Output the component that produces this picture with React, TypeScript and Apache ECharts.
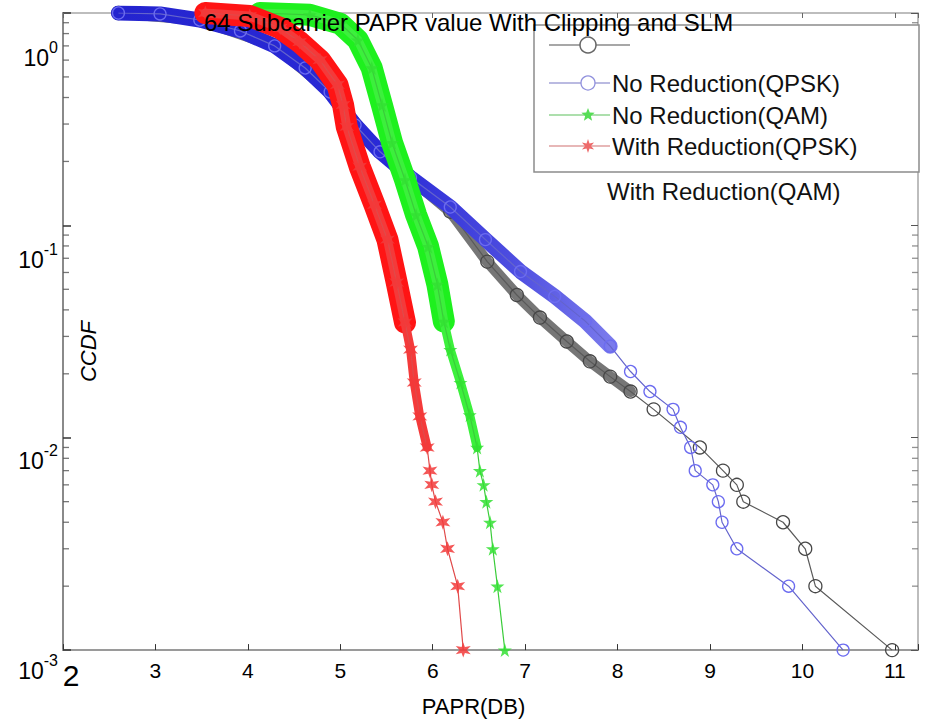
import { useEffect, useRef } from "react";
import * as echarts from "echarts";

const FONT = "'Liberation Sans', Arial, Helvetica, sans-serif";

const chartTitle = "64 Subcarrier PAPR value With Clipping and SLM";
const xAxisTitle = "PAPR(DB)";
const yAxisTitle = "CCDF";
const xTickValues = [2, 3, 4, 5, 6, 7, 8, 9, 10, 11];
const logMinorTicks = [
  0.002, 0.003, 0.004, 0.005, 0.006, 0.007, 0.008, 0.009,
  0.02, 0.03, 0.04, 0.05, 0.06, 0.07, 0.08, 0.09,
  0.2, 0.3, 0.4, 0.5, 0.6, 0.7, 0.8, 0.9,
];
const legendRows = ["", "No Reduction(QPSK)", "No Reduction(QAM)", "With Reduction(QPSK)"];
const legendTrailing = "With Reduction(QAM)";

// black hollow circles (first plotted curve, hidden under blue at the top)
const blackCurve: [number, number][] = [
  [2.6, 1.0], [3.48, 0.927], [4.29, 0.7], [4.89, 0.425], [5.43, 0.222], [5.76, 0.166],
  [6.19, 0.116], [6.59, 0.0675], [6.91, 0.047], [7.16, 0.0368], [7.45, 0.0284], [7.7, 0.0229],
  [7.92, 0.0194], [8.14, 0.0165], [8.39, 0.0136], [8.89, 0.009], [9.14, 0.007],
  [9.29, 0.006], [9.36, 0.005], [9.79, 0.004], [10.03, 0.003], [10.14, 0.002], [10.97, 0.001],
];

// blue hollow circles
const blueCurve: [number, number][] = [
  [2.6, 1.0], [3.05, 0.99], [3.48, 0.927], [3.92, 0.823], [4.29, 0.7], [4.62, 0.551],
  [4.89, 0.425], [5.16, 0.297], [5.43, 0.222], [5.76, 0.168], [6.19, 0.122], [6.57, 0.0857],
  [6.95, 0.0606], [7.32, 0.0463], [7.65, 0.0354], [7.92, 0.027], [8.14, 0.0205], [8.35, 0.0165],
  [8.6, 0.0136], [8.68, 0.0112], [8.79, 0.009], [8.84, 0.007], [9.03, 0.006], [9.09, 0.005],
  [9.13, 0.004], [9.29, 0.003], [9.85, 0.002], [10.44, 0.001],
];

// green stars
const greenCurve: [number, number][] = [
  [4.13, 1.0], [4.67, 0.98], [5.0, 0.89], [5.19, 0.746], [5.34, 0.551], [5.45, 0.369],
  [5.56, 0.245], [5.7, 0.164], [5.82, 0.112], [5.95, 0.0795], [6.05, 0.0527], [6.12, 0.0353],
  [6.19, 0.026], [6.3, 0.0182], [6.4, 0.0128], [6.48, 0.009], [6.51, 0.007], [6.55, 0.006],
  [6.58, 0.005], [6.62, 0.004], [6.65, 0.003], [6.7, 0.002], [6.78, 0.001],
];

// red hexagrams
const redCurve: [number, number][] = [
  [3.54, 1.0], [4.02, 0.968], [4.35, 0.85], [4.56, 0.73], [4.78, 0.6], [4.97, 0.459],
  [5.03, 0.369], [5.07, 0.291], [5.21, 0.189], [5.37, 0.125], [5.51, 0.0857], [5.61, 0.0538],
  [5.7, 0.0349], [5.76, 0.026], [5.8, 0.0182], [5.86, 0.0126], [5.94, 0.009], [5.97, 0.007],
  [5.99, 0.006], [6.03, 0.005], [6.11, 0.004], [6.16, 0.003], [6.27, 0.002], [6.33, 0.001],
];

const PENTAGRAM = "path://M50,0 L61,35 L98,35 L68,57 L79,91 L50,70 L21,91 L32,57 L2,35 L39,35 Z";
const HEXAGRAM = "path://M50,0 L60,30 L95,22 L72,50 L95,78 L60,70 L50,100 L40,70 L5,78 L28,50 L5,22 L40,30 Z";

const above = (pts: [number, number][], lim: number) => pts.filter((p) => p[1] >= lim);

function starPoints(cx: number, cy: number, R: number, r: number, n: number) {
  const pts: number[][] = [];
  for (let i = 0; i < n * 2; i++) {
    const a = -Math.PI / 2 + (i * Math.PI) / n;
    const rad = i % 2 === 0 ? R : r;
    pts.push([cx + rad * Math.cos(a), cy + rad * Math.sin(a)]);
  }
  return pts;
}

// extra downward offset of each y tick label (the reference draws them below their ticks)
const labelDrop: Record<string, number> = { e0: 26, e1: 16, e2: 5, e3: 2 };

export default function App() {
  const ref = useRef<HTMLDivElement | null>(null);

  useEffect(() => {
    if (!ref.current) return;
    const chart = echarts.init(ref.current, undefined, { renderer: "svg" });
    const X_MAX = 11.25;
    const legendY = [45, 83, 115, 146];
    const legendText = legendRows.map((t, i) => ({
      type: "text",
      x: 612,
      y: legendY[i],
      z: 4,
      style: { text: t, fontSize: 24, fontFamily: FONT, fill: "#111", verticalAlign: "middle" },
    }));

    const rich: Record<string, any> = {};
    Object.keys(labelDrop).forEach((k) => {
      const d = labelDrop[k];
      rich["b" + k] = { fontSize: 23, fontFamily: FONT, color: "#000", padding: [d + 7, 0, 0, 0] };
      rich["s" + k] = { fontSize: 16, fontFamily: FONT, color: "#000", verticalAlign: "top", padding: [d, 0, 0, 0] };
    });

    const blueBandColor = new echarts.graphic.LinearGradient(0, 0, 1, 0, [
      { offset: 0, color: "#2424cf" },
      { offset: 0.55, color: "#2a2ad6" },
      { offset: 0.8, color: "#4d4de0" },
      { offset: 1, color: "#7a7aec" },
    ]);

    const option: any = {
      animation: false,
      backgroundColor: "#ffffff",
      title: {
        text: chartTitle,
        left: 204,
        top: 10,
        padding: 0,
        z: 10,
        textStyle: { fontSize: 24, fontWeight: "normal", fontFamily: FONT, color: "#000" },
      },
      grid: {
        left: 63,
        top: 13,
        right: 7,
        bottom: 71,
        show: true,
        borderColor: "#a8a8a8",
        borderWidth: 1.5,
        backgroundColor: "transparent",
      },
      xAxis: [
        {
          type: "value",
          min: 2,
          max: X_MAX,
          interval: 1,
          axisLine: { show: true, onZero: false, lineStyle: { color: "#9a9a9a", width: 2 } },
          axisTick: { inside: true, length: 6, lineStyle: { color: "#333" } },
          splitLine: { show: false },
          axisLabel: {
            margin: 10,
            color: "#000",
            fontFamily: FONT,
            fontSize: 21,
            formatter: (v: number) =>
              xTickValues.includes(v) ? (v === 2 ? "{big|2}" : String(v)) : "",
            rich: { big: { fontSize: 30, fontFamily: FONT, color: "#000", padding: [0, 0, 0, 16] } },
          },
          name: xAxisTitle,
          nameLocation: "middle",
          nameGap: 44,
          nameTextStyle: { fontSize: 22, fontFamily: FONT, color: "#000", padding: [0, 34, 0, 0] },
        },
        {
          type: "value",
          position: "top",
          min: 2,
          max: X_MAX,
          interval: 1,
          axisLine: { show: false },
          axisTick: { inside: true, length: 5, lineStyle: { color: "#666" } },
          axisLabel: { show: false },
          splitLine: { show: false },
        },
      ],
      yAxis: [
        {
          type: "log",
          logBase: 10,
          min: 0.001,
          max: 1,
          axisLine: { show: true, onZero: false, lineStyle: { color: "#8a8a8a", width: 2 } },
          axisTick: { inside: true, length: 8, lineStyle: { color: "#333", width: 1.5 } },
          splitLine: { show: false },
          axisLabel: {
            margin: 5,
            verticalAlign: "top",
            formatter: (v: number) => {
              const e = Math.round(Math.log10(v));
              const k = "e" + Math.abs(e);
              return `{b${k}|10}{s${k}|${e}}`;
            },
            rich,
          },
          name: yAxisTitle,
          nameLocation: "middle",
          nameGap: -36,
          nameRotate: 90,
          nameTextStyle: {
            fontSize: 22,
            fontStyle: "italic",
            fontFamily: FONT,
            color: "#000",
            padding: [0, 40, 0, 0],
          },
        },
        {
          type: "log",
          logBase: 10,
          position: "right",
          min: 0.001,
          max: 1,
          axisLine: { show: false },
          axisTick: { inside: true, length: 7, lineStyle: { color: "#555" } },
          axisLabel: { show: false },
          splitLine: { show: false },
        },
      ],
      graphic: [
        {
          type: "rect",
          z: 3,
          shape: { x: 534, y: 25, width: 385, height: 147 },
          style: { fill: "#fff", stroke: "#8c8c8c", lineWidth: 1.5 },
        },
        { type: "line", z: 4, shape: { x1: 549, y1: 45, x2: 630, y2: 45 }, style: { stroke: "#8a8a8a", lineWidth: 1.5 } },
        { type: "circle", z: 4, shape: { cx: 588, cy: 45, r: 8 }, style: { fill: "#fff", stroke: "#666", lineWidth: 1.5 } },
        { type: "line", z: 4, shape: { x1: 549, y1: 83, x2: 610, y2: 83 }, style: { stroke: "#7676c4", lineWidth: 1.2 } },
        { type: "circle", z: 4, shape: { cx: 588, cy: 83, r: 7 }, style: { fill: "#fff", stroke: "#9090dd", lineWidth: 1.3 } },
        { type: "line", z: 4, shape: { x1: 549, y1: 115, x2: 610, y2: 115 }, style: { stroke: "#5cbf5c", lineWidth: 1.2 } },
        { type: "polygon", z: 4, shape: { points: starPoints(588, 115, 7, 3, 5) }, style: { fill: "#55dd55" } },
        { type: "line", z: 4, shape: { x1: 549, y1: 146, x2: 610, y2: 146 }, style: { stroke: "#cf7070", lineWidth: 1.2 } },
        { type: "polygon", z: 4, shape: { points: starPoints(588, 146, 7, 3, 6) }, style: { fill: "#ee6a6a" } },
        ...legendText,
        {
          type: "text",
          x: 607,
          y: 191,
          z: 4,
          style: { text: legendTrailing, fontSize: 24, fontFamily: FONT, fill: "#111", verticalAlign: "middle" },
        },
      ],
      series: [
        {
          type: "scatter",
          name: "minor-left",
          data: logMinorTicks.map((v) => [2, v]),
          symbol: "rect",
          symbolSize: [6, 1.3],
          symbolOffset: [3, 0],
          itemStyle: { color: "#555" },
          silent: true,
          z: 1,
        },
        {
          type: "scatter",
          name: "minor-right",
          data: logMinorTicks.map((v) => [X_MAX, v]),
          symbol: "rect",
          symbolSize: [6, 1.3],
          symbolOffset: [-3, 0],
          itemStyle: { color: "#777" },
          silent: true,
          z: 1,
        },
        {
          type: "line",
          name: "black-band",
          data: above(blackCurve, 0.015),
          symbol: "none",
          lineStyle: { width: 11, color: "#767676", cap: "round", join: "round" },
          silent: true,
          z: 2,
        },
        {
          type: "line",
          name: "Series 1",
          data: blackCurve,
          symbol: "circle",
          symbolSize: 13,
          showAllSymbol: true,
          itemStyle: { color: "rgba(255,255,255,0)", borderColor: "#474747", borderWidth: 1.3 },
          lineStyle: { width: 1.2, color: "#5a5a5a" },
          z: 3,
        },
        {
          type: "line",
          name: "blue-band",
          data: above(blueCurve, 0.025),
          symbol: "none",
          lineStyle: { width: 15, color: blueBandColor, cap: "round", join: "round" },
          silent: true,
          z: 4,
        },
        {
          type: "line",
          name: legendRows[1],
          data: blueCurve,
          symbol: "circle",
          symbolSize: 12,
          showAllSymbol: true,
          itemStyle: { color: "rgba(255,255,255,0)", borderColor: "#6c6cf0", borderWidth: 1.3 },
          lineStyle: { width: 1.2, color: "#6464cc" },
          z: 5,
        },
        {
          type: "line",
          name: "green-band",
          data: above(greenCurve, 0.03),
          symbol: "none",
          lineStyle: { width: 22, color: "#1ef01e", cap: "round", join: "round" },
          silent: true,
          z: 6,
        },
        {
          type: "line",
          name: "green-band-thin",
          data: above(greenCurve, 0.009),
          symbol: "none",
          lineStyle: { width: 9, color: "#3cf03c", cap: "round", join: "round" },
          silent: true,
          z: 6,
        },
        {
          type: "line",
          name: legendRows[2],
          data: greenCurve,
          symbol: PENTAGRAM,
          symbolSize: 14,
          showAllSymbol: true,
          itemStyle: { color: "#33e033", opacity: 0.85 },
          lineStyle: { width: 1.2, color: "#3acc3a" },
          z: 7,
        },
        {
          type: "line",
          name: "red-band",
          data: above(redCurve, 0.03),
          symbol: "none",
          lineStyle: { width: 22, color: "#ff1414", cap: "round", join: "round" },
          silent: true,
          z: 8,
        },
        {
          type: "line",
          name: "red-band-thin",
          data: above(redCurve, 0.009),
          symbol: "none",
          lineStyle: { width: 9, color: "#f43a3a", cap: "round", join: "round" },
          silent: true,
          z: 8,
        },
        {
          type: "line",
          name: legendRows[3],
          data: redCurve,
          symbol: HEXAGRAM,
          symbolSize: 15,
          showAllSymbol: true,
          itemStyle: { color: "#f23a3a", opacity: 0.85 },
          lineStyle: { width: 1.2, color: "#e04a4a" },
          z: 9,
        },
      ],
    };

    chart.setOption(option);
    return () => chart.dispose();
  }, []);

  return (
    <div
      ref={ref}
      style={{ position: "fixed", left: 0, top: 0, width: 925, height: 722, background: "#fff" }}
    />
  );
}
